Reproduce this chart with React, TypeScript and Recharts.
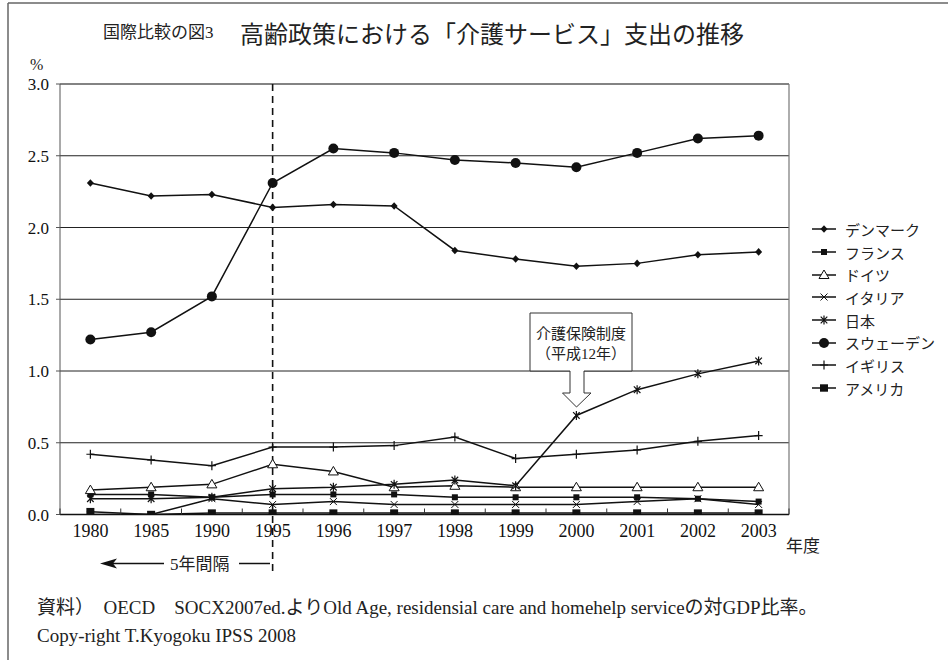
import React from 'react';
import { LineChart, Line, XAxis, YAxis, CartesianGrid, ReferenceLine, Legend } from 'recharts';

// 高齢政策における「介護サービス」支出（対GDP比, %）
const years = ['1980', '1985', '1990', '1995', '1996', '1997', '1998', '1999', '2000', '2001', '2002', '2003'];
const denmark = [2.31, 2.22, 2.23, 2.14, 2.16, 2.15, 1.84, 1.78, 1.73, 1.75, 1.81, 1.83];
const france = [0.14, 0.14, 0.12, 0.14, 0.14, 0.14, 0.12, 0.12, 0.12, 0.12, 0.11, 0.09];
const germany = [0.17, 0.19, 0.21, 0.35, 0.30, 0.19, 0.20, 0.19, 0.19, 0.19, 0.19, 0.19];
const italy = [0.0, 0.0, 0.11, 0.07, 0.09, 0.07, 0.07, 0.07, 0.07, 0.09, 0.11, 0.07];
const japan = [0.11, 0.11, 0.12, 0.18, 0.19, 0.21, 0.24, 0.2, 0.69, 0.87, 0.98, 1.07];
const sweden = [1.22, 1.27, 1.52, 2.31, 2.55, 2.52, 2.47, 2.45, 2.42, 2.52, 2.62, 2.64];
const uk = [0.42, 0.38, 0.34, 0.47, 0.47, 0.48, 0.54, 0.39, 0.42, 0.45, 0.51, 0.55];
const usa = [0.02, 0.0, 0.01, 0.01, 0.01, 0.01, 0.01, 0.01, 0.01, 0.01, 0.01, 0.01];

const yTicks = [0, 0.5, 1.0, 1.5, 2.0, 2.5, 3.0];

type Shape = 'diamond' | 'square' | 'triangle' | 'cross' | 'asterisk' | 'circle' | 'plus' | 'bigSquare';

const series: { key: string; name: string; values: number[]; shape: Shape }[] = [
  { key: 'denmark', name: 'デンマーク', values: denmark, shape: 'diamond' },
  { key: 'france', name: 'フランス', values: france, shape: 'square' },
  { key: 'germany', name: 'ドイツ', values: germany, shape: 'triangle' },
  { key: 'italy', name: 'イタリア', values: italy, shape: 'cross' },
  { key: 'japan', name: '日本', values: japan, shape: 'asterisk' },
  { key: 'sweden', name: 'スウェーデン', values: sweden, shape: 'circle' },
  { key: 'uk', name: 'イギリス', values: uk, shape: 'plus' },
  { key: 'usa', name: 'アメリカ', values: usa, shape: 'bigSquare' },
];

// one slot per survey year; pos is the slot index on the x axis
const rows = years.map((year, i) => {
  const row: Record<string, string | number> = { year, pos: i };
  series.forEach((s) => {
    row[s.key] = s.values[i];
  });
  return row;
});

// year labels sit in slot centres, tick marks on the slot boundaries
const slotCentres = years.map((_, i) => i);
const slotEdges = [-0.5, ...years.map((_, i) => i + 0.5)];
const xTicks = [...slotEdges, ...slotCentres].sort((a, b) => a - b);
const xDomain = [slotEdges[0], slotEdges[slotEdges.length - 1]];
const dividerPos = years.indexOf('1995');

const SERIF = '"Liberation Serif", "Noto Sans CJK JP", serif';
const INK = '#111';

function Marker({ shape, cx, cy }: { shape: Shape; cx: number; cy: number }) {
  switch (shape) {
    case 'diamond':
      return <path d={`M${cx} ${cy - 3.8}L${cx + 3.5} ${cy}L${cx} ${cy + 3.8}L${cx - 3.5} ${cy}Z`} fill={INK} />;
    case 'square':
      return <rect x={cx - 3} y={cy - 3} width={6} height={6} fill={INK} />;
    case 'bigSquare':
      return <rect x={cx - 4} y={cy - 3.7} width={8} height={7.4} fill={INK} />;
    case 'triangle':
      return (
        <path
          d={`M${cx} ${cy - 5}L${cx + 5} ${cy + 3.5}L${cx - 5} ${cy + 3.5}Z`}
          fill="#fff"
          stroke={INK}
          strokeWidth={1}
        />
      );
    case 'cross':
      return (
        <path
          d={`M${cx - 3.5} ${cy - 3.5}L${cx + 3.5} ${cy + 3.5}M${cx + 3.5} ${cy - 3.5}L${cx - 3.5} ${cy + 3.5}`}
          stroke={INK}
          strokeWidth={1}
          fill="none"
        />
      );
    case 'asterisk':
      return (
        <path
          d={`M${cx - 3.3} ${cy - 3.3}L${cx + 3.3} ${cy + 3.3}M${cx + 3.3} ${cy - 3.3}L${cx - 3.3} ${cy + 3.3}M${cx} ${cy - 4.5}L${cx} ${cy + 4.5}`}
          stroke={INK}
          strokeWidth={1.2}
          fill="none"
        />
      );
    case 'circle':
      return <circle cx={cx} cy={cy} r={5} fill={INK} />;
    case 'plus':
      return (
        <path
          d={`M${cx} ${cy - 4.5}L${cx} ${cy + 4.5}M${cx - 4} ${cy}L${cx + 4} ${cy}`}
          stroke={INK}
          strokeWidth={1.2}
          fill="none"
        />
      );
    default:
      return null;
  }
}

// bottom axis: year label in each slot centre, short inward tick on each boundary
const YearTick = (props: any) => {
  const { x, y, payload } = props;
  const v = payload.value as number;
  if (!Number.isInteger(v)) {
    return <line x1={x} x2={x} y1={y} y2={y - 6} stroke="#333" strokeWidth={1} />;
  }
  return (
    <text x={x} y={y + 10} dy="0.71em" textAnchor="middle" fill="#111" fontSize={18} fontFamily="Liberation Serif">
      {years[v]}
    </text>
  );
};

const ValueTick = (props: any) => {
  const { x, y, payload } = props;
  return (
    <text x={x} y={y} dy="0.355em" textAnchor="end" fill="#111" fontSize={17} fontFamily="Liberation Serif">
      {(payload.value as number).toFixed(1)}
    </text>
  );
};

const LegendList = () => (
  <div style={{ fontFamily: SERIF, fontSize: 15, color: '#222' }}>
    {series.map((s) => (
      <div key={s.key} style={{ display: 'flex', alignItems: 'center', height: 22.7, whiteSpace: 'nowrap' }}>
        <svg width={35} height={22} style={{ flex: 'none' }}>
          <line x1={2} y1={11} x2={26} y2={11} stroke={INK} strokeWidth={1.5} />
          <Marker shape={s.shape} cx={14} cy={11} />
        </svg>
        <span>{s.name}</span>
      </div>
    ))}
  </div>
);

export default function App() {
  return (
    <div
      style={{
        position: 'absolute',
        left: 0,
        top: 0,
        width: 948,
        height: 660,
        background: '#fff',
        overflow: 'hidden',
        fontFamily: SERIF,
      }}
    >
      <LineChart width={948} height={660} data={rows} margin={{ top: 84, right: 159, bottom: 144.5, left: 0 }}>
        <CartesianGrid vertical={false} stroke="#222" strokeWidth={1} />
        <XAxis
          dataKey="pos"
          type="number"
          domain={xDomain}
          allowDataOverflow
          ticks={xTicks}
          interval={0}
          height={1}
          tickLine={false}
          tickSize={0}
          tickMargin={0}
          axisLine={{ stroke: '#111', strokeWidth: 1.5 }}
          tick={<YearTick />}
        />
        <YAxis
          domain={[0, 3]}
          ticks={yTicks}
          allowDataOverflow
          width={60}
          tickSize={4}
          tickMargin={7}
          axisLine={{ stroke: '#555' }}
          tickLine={{ stroke: '#555' }}
          tick={<ValueTick />}
        />
        <ReferenceLine y={3} stroke="#777" strokeWidth={1.2} />
        <ReferenceLine x={xDomain[1]} stroke="#777" strokeWidth={1.2} />
        <ReferenceLine
          segment={[
            { x: dividerPos, y: 3 },
            { x: dividerPos, y: -0.42 },
          ]}
          ifOverflow="visible"
          stroke="#111"
          strokeWidth={1.6}
          strokeDasharray="7 5"
        />
        {series.map((s) => (
          <Line
            key={s.key}
            dataKey={s.key}
            name={s.name}
            type="linear"
            stroke={INK}
            strokeWidth={1.5}
            isAnimationActive={false}
            dot={(p: any) => <Marker key={`${s.key}-${p.index}`} shape={s.shape} cx={p.cx} cy={p.cy} />}
            activeDot={false}
          />
        ))}
        <Legend
          layout="vertical"
          align="center"
          verticalAlign="middle"
          content={LegendList}
          wrapperStyle={{ left: 810, top: 218, width: 138 }}
        />
      </LineChart>

      <svg
        width={948}
        height={660}
        style={{ position: 'absolute', left: 0, top: 0, pointerEvents: 'none', fontFamily: SERIF }}
      >
        {/* frame */}
        <line x1={8} y1={3} x2={948} y2={3} stroke="#666" strokeWidth={1.5} />
        <line x1={8} y1={3} x2={8} y2={660} stroke="#666" strokeWidth={1.5} />

        {/* titles */}
        <text x={103} y={38} fontSize={17} fill="#222">
          国際比較の図3
        </text>
        <text x={240} y={43} fontSize={24} fill="#222">
          高齢政策における「介護サービス」支出の推移
        </text>
        <text x={30} y={70} fontSize={16} fill="#222">
          %
        </text>
        <text x={786} y={552} fontSize={17} fill="#222">
          年度
        </text>

        {/* 5-year interval marker */}
        <line x1={112} y1={563.5} x2={164} y2={563.5} stroke="#111" strokeWidth={1.5} />
        <path d="M100 563.5L117 558.5L113 563.5L117 568.5Z" fill="#111" />
        <text x={170} y={570} fontSize={17} fill="#222">
          5年間隔
        </text>
        <line x1={239} y1={563.5} x2={270} y2={563.5} stroke="#111" strokeWidth={1.5} />

        {/* callout: long-term care insurance */}
        <path
          d="M530 313H632V371H584V393H591L576.5 407L562.5 393H570V371H530Z"
          fill="#fff"
          stroke="#333"
          strokeWidth={1}
        />
        <text x={581} y={339} fontSize={15} fill="#222" textAnchor="middle">
          介護保険制度
        </text>
        <text x={581} y={359} fontSize={15} fill="#222" textAnchor="middle">
          （平成12年）
        </text>

        {/* source notes */}
        <text x={37} y={614} fontSize={19} fill="#222">
          資料）　OECD　SOCX2007ed.よりOld Age, residensial care and homehelp serviceの対GDP比率。
        </text>
        <text x={37} y={642} fontSize={19} fill="#222">
          Copy-right T.Kyogoku IPSS 2008
        </text>
      </svg>
    </div>
  );
}
